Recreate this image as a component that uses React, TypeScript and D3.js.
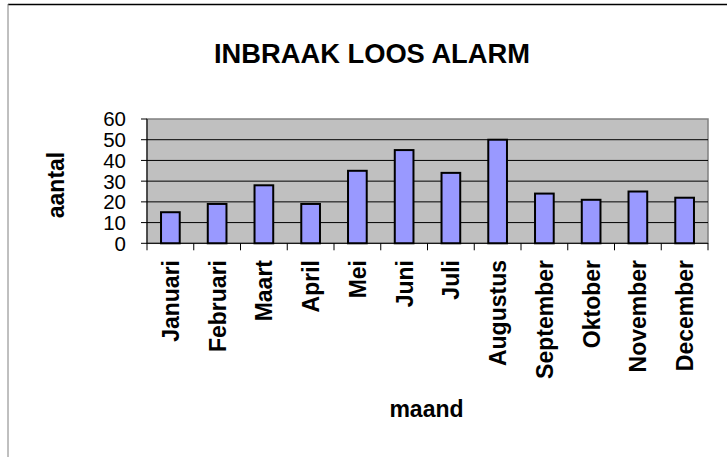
import React from "react";
import * as d3 from "d3";

const months = ["Januari","Februari","Maart","April","Mei","Juni","Juli","Augustus","September","Oktober","November","December"];
const counts = [15, 19, 28, 19, 35, 45, 34, 50, 24, 21, 25, 22];
const yTicks = [0, 10, 20, 30, 40, 50, 60];
const title = "INBRAAK LOOS ALARM";
const yTitle = "aantal";
const xTitle = "maand";

const W = 727, H = 457;
const plot = { left: 147, right: 708, top: 119, bottom: 243.3 };
const font = "Arial, 'Liberation Sans', sans-serif";

export default function App() {
  const x = d3.scaleBand<string>().domain(months).range([plot.left, plot.right]).paddingInner(0.6).paddingOuter(0.3);
  const xEdge = d3.scaleLinear().domain([0, months.length]).range([plot.left, plot.right]);
  const y = d3.scaleLinear().domain([0, 60]).range([plot.bottom, plot.top]);
  const bw = x.bandwidth();
  return (
    <svg width={W} height={H} style={{ position: "absolute", left: 0, top: 0, fontFamily: font }}>
      <rect x={0} y={0} width={W} height={H} fill="#fff" />
      <line x1={8} y1={4.5} x2={W} y2={4.5} stroke="#000" strokeWidth={1.5} />
      <line x1={8} y1={4} x2={8} y2={H} stroke="#808080" strokeWidth={1} />
      <text x={372} y={63} textAnchor="middle" fontSize={27.3} fontWeight="bold">{title}</text>
      <rect x={plot.left} y={plot.top} width={plot.right - plot.left} height={plot.bottom - plot.top} fill="#C0C0C0" stroke="#808080" strokeWidth={1.5} />
      {yTicks.map((t) => (
        <g key={t}>
          {t > 0 && t < 60 && <line x1={plot.left} x2={plot.right} y1={y(t)} y2={y(t)} stroke="#000" strokeWidth={1} />}
          <line x1={plot.left - 6} x2={plot.left} y1={y(t)} y2={y(t)} stroke="#000" strokeWidth={1} />
          <text x={126} y={y(t)} dy="0.36em" textAnchor="end" fontSize={20.5}>{t}</text>
        </g>
      ))}
      <line x1={plot.left} x2={plot.left} y1={plot.top} y2={plot.bottom} stroke="#000" strokeWidth={1} />
      {counts.map((v, i) => (
        <rect key={months[i]} x={x(months[i])!} y={y(v)} width={bw} height={y(0) - y(v)} fill="#9999FF" stroke="#000" strokeWidth={2} />
      ))}
      <line x1={plot.left} x2={plot.right} y1={plot.bottom} y2={plot.bottom} stroke="#000" strokeWidth={1} />
      {d3.range(months.length + 1).map((i) => (
        <line key={i} x1={xEdge(i)} x2={xEdge(i)} y1={plot.bottom} y2={plot.bottom + 7} stroke="#000" strokeWidth={1} />
      ))}
      {months.map((m) => {
        const cx = x(m)! + bw / 2;
        return (
          <text key={m} transform={`translate(${cx + 8.5},260) rotate(-90)`} textAnchor="end" fontSize={23} fontWeight="bold">{m}</text>
        );
      })}
      <text transform={`translate(64,185) rotate(-90)`} textAnchor="middle" fontSize={23} fontWeight="bold">{yTitle}</text>
      <text x={426.5} y={417} textAnchor="middle" fontSize={23} fontWeight="bold">{xTitle}</text>
    </svg>
  );
}
